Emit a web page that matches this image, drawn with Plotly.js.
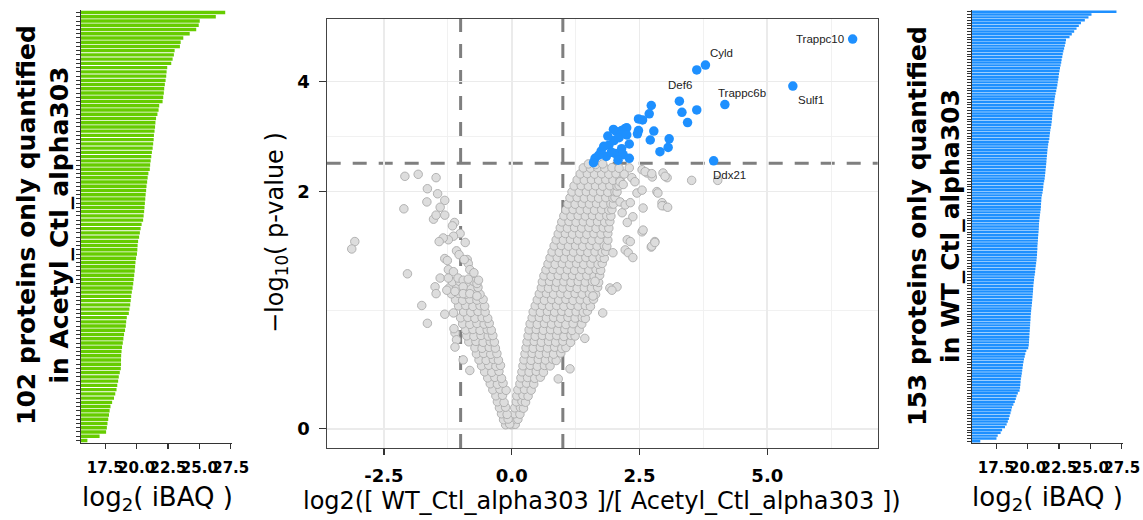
<!DOCTYPE html>
<html>
<head>
<meta charset="utf-8">
<script src="https://cdn.plot.ly/plotly-3.0.1.min.js"></script>
<style>html,body{margin:0;padding:0;background:#fff;}#chart{width:1143px;height:520px;}</style>
</head>
<body>
<div id="chart"></div>
<script>
// ---------------- DATA ----------------
// log2(iBAQ) of proteins only quantified in Acetyl_Ctl_alpha303 (sorted, top to bottom)
const acetylOnlyIBAQ = [
27.06,26.31,25.03,24.95,24.75,24.23,23.72,23.51,23.45,23.03,
22.97,22.87,22.76,22.44,22.39,22.36,22.31,22.25,22.20,22.17,
22.12,22.07,21.80,21.75,21.66,21.55,21.50,21.47,21.43,21.38,
21.36,21.32,21.28,21.22,21.17,21.12,21.08,21.05,20.94,20.88,
20.84,20.79,20.76,20.72,20.69,20.66,20.63,20.60,20.56,20.52,
20.40,20.32,20.26,20.20,20.12,20.08,20.06,20.03,19.96,19.91,
19.88,19.85,19.81,19.77,19.73,19.68,19.62,19.57,19.53,19.49,
19.43,19.38,19.22,19.17,19.14,19.08,19.00,18.95,18.90,18.84,
18.80,18.77,18.76,18.76,18.74,18.66,18.58,18.53,18.46,18.40,
18.30,18.20,18.05,17.92,17.85,17.80,17.74,17.68,17.63,17.57,
17.05,16.08];

// log2(iBAQ) of proteins only quantified in WT_Ctl_alpha303 (sorted, top to bottom)
const wtOnlyIBAQ = [
27.08,25.09,24.85,24.56,24.25,24.08,23.90,23.71,23.52,23.34,
23.06,23.02,22.97,22.91,22.85,22.80,22.76,22.71,22.68,22.63,
22.58,22.54,22.50,22.47,22.44,22.40,22.37,22.32,22.28,22.23,
22.19,22.15,22.13,22.10,22.06,22.01,21.98,21.96,21.94,21.92,
21.89,21.85,21.81,21.78,21.75,21.73,21.68,21.64,21.61,21.58,
21.56,21.54,21.52,21.50,21.48,21.46,21.43,21.41,21.39,21.36,
21.32,21.27,21.25,21.22,21.19,21.14,21.10,21.09,21.07,21.06,
21.04,21.01,20.98,20.95,20.93,20.91,20.90,20.89,20.87,20.85,
20.83,20.82,20.80,20.78,20.78,20.76,20.75,20.73,20.71,20.68,
20.65,20.62,20.60,20.57,20.53,20.51,20.48,20.46,20.44,20.43,
20.41,20.39,20.37,20.35,20.33,20.30,20.28,20.26,20.24,20.23,
20.21,20.20,20.18,20.17,20.15,20.14,20.12,20.11,20.09,20.05,
19.90,19.82,19.77,19.71,19.67,19.63,19.60,19.57,19.54,19.50,
19.46,19.44,19.42,19.40,19.36,19.22,19.12,19.06,18.98,18.87,
18.76,18.70,18.64,18.57,18.51,18.42,18.33,18.20,17.97,17.85,
17.62,17.52,16.23];

// Volcano plot: non-significant proteins [log2 ratio, -log10 p]
const grayPoints = [
// right arm
[0.00,0.019],[0.07,0.021],
[0.02,0.043],[0.12,0.045],
[0.05,0.072],[0.16,0.070],
[0.06,0.102],[0.17,0.104],[0.23,0.100],
[0.09,0.133],[0.20,0.135],[0.27,0.131],
[0.10,0.165],[0.22,0.168],[0.32,0.163],
[0.12,0.198],[0.25,0.200],[0.38,0.196],
[0.16,0.232],[0.29,0.235],[0.43,0.230],
[0.18,0.266],[0.31,0.268],[0.45,0.263],[0.56,0.270],
[0.20,0.302],[0.34,0.300],[0.48,0.305],[0.62,0.299],
[0.22,0.339],[0.36,0.342],[0.50,0.336],[0.64,0.341],[0.75,0.338],
[0.24,0.376],[0.38,0.373],[0.52,0.379],[0.66,0.375],[0.80,0.380],[0.87,0.372],
[0.26,0.415],[0.40,0.418],[0.54,0.412],[0.68,0.417],[0.82,0.413],[0.96,0.420],
[0.28,0.455],[0.42,0.452],[0.56,0.458],[0.70,0.454],[0.84,0.459],[0.98,0.451],[1.06,0.457],
[0.30,0.496],[0.44,0.499],[0.58,0.493],[0.72,0.498],[0.86,0.494],[1.00,0.500],[1.15,0.492],
[0.32,0.538],[0.46,0.535],[0.60,0.541],[0.74,0.536],[0.88,0.540],[1.02,0.534],[1.16,0.541],[1.24,0.537],
[0.34,0.581],[0.48,0.584],[0.62,0.578],[0.76,0.583],[0.90,0.579],[1.04,0.585],[1.18,0.577],[1.32,0.582],
[0.36,0.626],[0.50,0.622],[0.64,0.629],[0.78,0.624],[0.92,0.630],[1.06,0.621],[1.20,0.627],[1.37,0.624],
[0.40,0.672],[0.54,0.675],[0.68,0.669],[0.82,0.674],[0.96,0.668],[1.10,0.676],[1.24,0.670],[1.38,0.674],[1.44,0.667],
[0.42,0.719],[0.56,0.715],[0.70,0.722],[0.84,0.717],[0.98,0.723],[1.12,0.714],[1.26,0.720],[1.40,0.716],[1.48,0.724],
[0.46,0.767],[0.60,0.770],[0.74,0.763],[0.88,0.769],[1.02,0.764],[1.16,0.771],[1.30,0.765],[1.44,0.770],[1.54,0.762],
[0.50,0.817],[0.64,0.813],[0.78,0.820],[0.92,0.815],[1.06,0.821],[1.20,0.812],[1.34,0.818],[1.48,0.814],[1.60,0.822],
[0.54,0.868],[0.68,0.872],[0.82,0.865],[0.96,0.870],[1.10,0.864],[1.24,0.871],[1.38,0.866],[1.52,0.872],[1.64,0.863],
[0.58,0.921],[0.72,0.917],[0.86,0.924],[1.00,0.919],[1.14,0.925],[1.28,0.916],[1.42,0.922],[1.56,0.918],[1.68,0.926],
[0.60,0.975],[0.74,0.979],[0.88,0.972],[1.02,0.977],[1.16,0.971],[1.30,0.978],[1.44,0.973],[1.58,0.979],[1.70,0.970],
[0.63,1.031],[0.77,1.027],[0.91,1.034],[1.05,1.029],[1.19,1.035],[1.33,1.026],[1.47,1.032],[1.61,1.028],[1.72,1.036],
[0.67,1.088],[0.81,1.092],[0.95,1.085],[1.09,1.090],[1.23,1.084],[1.37,1.091],[1.51,1.086],[1.65,1.092],[1.74,1.083],
[0.71,1.146],[0.85,1.142],[0.99,1.149],[1.13,1.144],[1.27,1.150],[1.41,1.141],[1.55,1.147],[1.69,1.143],[1.77,1.151],
[0.75,1.207],[0.89,1.211],[1.03,1.204],[1.17,1.209],[1.31,1.203],[1.45,1.210],[1.59,1.205],[1.73,1.211],[1.81,1.202],
[0.79,1.269],[0.93,1.265],[1.07,1.272],[1.21,1.267],[1.35,1.273],[1.49,1.264],[1.63,1.270],[1.77,1.266],[1.84,1.274],
[0.83,1.333],[0.97,1.337],[1.11,1.330],[1.25,1.335],[1.39,1.329],[1.53,1.336],[1.67,1.331],[1.81,1.337],[1.86,1.328],
[0.87,1.399],[1.01,1.395],[1.15,1.402],[1.29,1.397],[1.43,1.403],[1.57,1.394],[1.71,1.400],[1.88,1.396],
[0.91,1.466],[1.05,1.470],[1.19,1.463],[1.33,1.468],[1.47,1.462],[1.61,1.469],[1.75,1.464],[1.88,1.470],
[0.95,1.536],[1.09,1.532],[1.23,1.539],[1.37,1.534],[1.51,1.540],[1.65,1.531],[1.79,1.537],[1.90,1.533],
[0.98,1.607],[1.12,1.611],[1.26,1.604],[1.40,1.609],[1.54,1.603],[1.68,1.610],[1.82,1.605],[1.92,1.611],
[1.02,1.681],[1.16,1.677],[1.30,1.684],[1.44,1.679],[1.58,1.685],[1.72,1.676],[1.86,1.682],[1.94,1.678],
[1.06,1.756],[1.20,1.760],[1.34,1.753],[1.48,1.758],[1.62,1.752],[1.76,1.759],[1.90,1.754],[1.96,1.760],
[1.10,1.834],[1.24,1.830],[1.38,1.837],[1.52,1.832],[1.66,1.838],[1.80,1.829],[1.94,1.835],[1.99,1.831],
[1.14,1.914],[1.28,1.918],[1.42,1.911],[1.56,1.916],[1.70,1.910],[1.84,1.917],[1.98,1.912],[2.02,1.918],
[1.18,1.996],[1.32,1.992],[1.46,1.999],[1.60,1.994],[1.74,2.000],[1.88,1.991],[2.02,1.997],[2.06,1.993],
[1.22,2.080],[1.36,2.084],[1.50,2.077],[1.64,2.082],[1.78,2.076],[1.92,2.083],[2.06,2.078],[2.10,2.084],
[1.28,2.167],[1.42,2.163],[1.56,2.170],[1.70,2.165],[1.84,2.171],[1.98,2.162],[2.12,2.168],
[1.34,2.256],[1.48,2.260],[1.62,2.253],[1.76,2.258],[1.90,2.252],[2.04,2.259],[2.20,2.254],
[1.40,2.348],[1.54,2.344],[1.68,2.351],[1.82,2.346],[1.96,2.352],[2.10,2.343],[2.30,2.349],
[1.50,2.41],[1.64,2.40],[1.78,2.41],
// right-side scattered
[3.52,2.16],[4.03,2.16],[2.96,2.27],[3.04,2.20],[2.84,2.00],[2.94,1.85],[2.98,1.81],[2.57,1.78],
[2.55,1.49],[2.80,1.38],[2.73,1.32],[2.26,1.40],[2.32,1.38],[2.22,1.29],[2.28,1.26],[2.37,1.21],
[1.98,1.26],[1.92,0.92],[2.06,0.93],[1.63,0.98],[1.78,0.71],[2.55,2.32],[2.65,2.27],[2.75,2.21],
[2.35,2.20],[2.41,2.14],[2.12,2.14],[2.18,2.10],[2.45,1.98],[2.37,1.67],[2.16,1.72],[2.26,1.60],
[2.12,1.86],[2.22,1.82],[2.32,1.85],[2.55,2.02],[2.86,1.98],[2.61,2.29],[2.74,2.26],[3.00,2.22],
[2.94,1.81],[3.05,1.79],[2.57,1.51],[2.74,1.33],[2.80,1.37],[1.43,0.52],[1.14,0.32],[0.91,0.26],
[1.59,0.85],[1.96,0.90],
// left arm
[-0.12,0.019],[-0.04,0.022],
[-0.16,0.043],[-0.07,0.046],
[-0.20,0.072],[-0.09,0.069],
[-0.24,0.102],[-0.12,0.105],
[-0.28,0.133],[-0.15,0.130],
[-0.31,0.165],[-0.18,0.168],
[-0.37,0.198],[-0.23,0.201],[-0.11,0.195],
[-0.42,0.232],[-0.28,0.229],[-0.17,0.235],
[-0.47,0.266],[-0.33,0.269],[-0.20,0.263],
[-0.53,0.302],[-0.39,0.299],[-0.25,0.305],
[-0.59,0.339],[-0.45,0.342],[-0.31,0.336],[-0.22,0.341],
[-0.64,0.376],[-0.50,0.373],[-0.36,0.379],[-0.26,0.374],
[-0.69,0.415],[-0.55,0.418],[-0.41,0.412],[-0.29,0.417],
[-0.72,0.455],[-0.58,0.452],[-0.44,0.458],[-0.32,0.453],
[-0.84,0.496],[-0.70,0.499],[-0.56,0.493],[-0.42,0.498],[-0.34,0.494],
[-0.88,0.538],[-0.74,0.535],[-0.60,0.541],[-0.46,0.536],[-0.37,0.540],
[-0.90,0.581],[-0.76,0.584],[-0.62,0.578],[-0.48,0.583],[-0.40,0.579],
[-0.96,0.626],[-0.82,0.622],[-0.68,0.629],[-0.54,0.624],[-0.44,0.630],
[-1.00,0.672],[-0.86,0.675],[-0.72,0.669],[-0.58,0.674],[-0.47,0.668],
[-0.94,0.719],[-0.80,0.715],[-0.66,0.722],[-0.52,0.717],
[-1.04,0.767],[-0.90,0.770],[-0.76,0.763],[-0.62,0.769],[-0.53,0.764],
[-1.10,0.817],[-0.96,0.813],[-0.82,0.820],[-0.68,0.815],[-0.56,0.821],
[-1.18,0.868],[-1.04,0.872],[-0.90,0.865],[-0.76,0.870],[-0.62,0.864],
[-1.22,0.921],[-1.08,0.917],[-0.94,0.924],[-0.80,0.919],[-0.66,0.925],
[-1.16,0.975],[-1.02,0.979],[-0.88,0.972],[-0.74,0.977],
// left-side scattered
[-2.09,2.22],[-1.83,2.25],[-1.48,2.20],[-1.65,2.04],[-1.45,1.97],[-1.66,1.86],[-1.31,1.88],[-2.11,1.77],
[-1.40,1.79],[-1.53,1.64],[-1.48,1.69],[-1.31,1.69],[-1.12,1.60],[-1.16,1.56],[-1.01,1.47],[-1.14,1.44],
[-0.91,1.37],[-1.24,1.40],[-1.34,1.42],[-1.42,1.38],[-3.07,1.38],[-3.13,1.30],[-1.08,1.28],[-1.03,1.24],
[-1.31,1.20],[-1.26,1.18],[-0.87,1.19],[-0.85,1.15],[-0.93,1.19],[-1.24,1.09],[-1.14,1.07],[-0.82,1.09],
[-0.74,1.06],[-2.04,1.05],[-1.40,1.01],[-1.24,1.01],[-1.05,1.01],[-0.95,0.99],[-0.85,1.00],[-0.68,0.96],
[-0.65,0.99],[-1.50,0.93],[-1.48,0.87],[-1.27,0.90],[-1.11,0.89],[-0.95,0.93],[-0.95,0.87],[-0.82,0.87],
[-0.68,0.85],[-1.76,0.77],[-1.65,0.63],[-1.31,0.70],[-1.14,0.71],[-1.11,0.56],[-1.08,0.51],[-1.11,0.46],
[-0.95,0.376],[-0.82,0.31],[-1.13,0.59]
];

// Volcano plot: significant proteins [log2 ratio, -log10 p]; first six are labelled
const sigPoints = [
[6.67,5.08],[3.79,4.39],[5.50,3.89],[4.17,3.49],[3.28,3.56],[3.95,2.46],
[3.62,4.27],[3.33,3.33],[3.62,3.38],[3.44,3.13],[3.08,2.83],[3.06,2.68],
[2.90,2.61],[2.78,2.97],[2.71,2.81],[2.73,3.47],[2.69,3.30],[2.48,3.20],
[2.56,3.18],[2.48,2.98],[2.46,2.92],[2.30,2.74],[2.22,3.02],[2.15,2.98],
[2.05,2.96],[1.99,3.00],[2.25,3.03],[2.02,2.58],[2.18,2.56],[1.85,2.53],
[1.63,2.50],[1.60,2.43],[1.75,2.62],[1.90,2.72],[2.00,2.80],[1.80,2.70],
[2.10,2.85],[1.95,2.60],[2.15,2.66],[1.70,2.55],[2.08,2.47],[1.88,2.88],
[2.30,2.50],[2.25,2.90]];
const sigLabels = ['Trappc10','Cyld','Sulf1','Trappc6b','Def6','Ddx21'];

const foldChangeCutoffs = [-1, 1];
const pValueCutoff = 2.42;

const volcanoXTicks = [-2.5, 0, 2.5, 5];
const volcanoXTickText = ['-2.5', '0.0', '2.5', '5.0'];
const volcanoXMinor = [-3.75, -1.25, 1.25, 3.75, 6.25];
const volcanoYTicks = [0, 2, 4];
const ibaqTicks = [17.5, 20, 22.5, 25, 27.5];
const ibaqTickText = ['17.5', '20.0', '22.5', '25.0', '27.5'];

// ---------------- STYLE / LAYOUT ----------------
const W = 1143, H = 520;
const px = v => v / W;            // paper x from pixel
const py = v => 1 - v / H;        // paper y from pixel
const tr = v => Math.log1p(v);    // pseudo-log y transform used by the volcano axis

const labelOffsets = [[-33, 0], [16, 12], [18, -14], [17, 12], [1, 16], [16, -14]];

const DV = 'DejaVu Sans, Verdana, sans-serif';
const AR = 'Liberation Sans, Arial, sans-serif';

const barAxisX = (domain) => ({
  domain: domain, range: [15.57, 27.6], tickmode: 'array', tickvals: ibaqTicks, ticktext: ibaqTickText,
  tickangle: 0, ticks: 'outside', ticklen: 5, tickwidth: 1.2, tickcolor: '#333', showline: true, linecolor: '#333', linewidth: 1.3,
  showgrid: false, zeroline: false, ticklabelstandoff: 6,
  tickfont: {family: DV, size: 15, color: '#000', weight: 'bold'}
});
const barAxisY = (domain, n, anchor) => ({
  domain: domain, anchor: anchor, range: [n - 0.4, -0.6], tickmode: 'linear', tick0: 0, dtick: 1,
  ticks: 'outside', ticklen: 4, tickwidth: 1, tickcolor: '#333', showticklabels: false,
  showline: true, linecolor: '#333', linewidth: 1.3, showgrid: false, zeroline: false
});

const traces = [
  {type: 'bar', orientation: 'h', x: acetylOnlyIBAQ, xaxis: 'x', yaxis: 'y', width: 0.8,
   marker: {color: '#66CC00', line: {width: 0}}, hoverinfo: 'x'},
  {type: 'scatter', mode: 'markers', xaxis: 'x2', yaxis: 'y2',
   x: grayPoints.map(p => p[0]), y: grayPoints.map(p => tr(p[1])),
   marker: {size: 8.5, color: '#dddddd', line: {width: 0.9, color: '#ababab'}}, hoverinfo: 'skip'},
  {type: 'scatter', mode: 'markers', xaxis: 'x2', yaxis: 'y2',
   x: sigPoints.map(p => p[0]), y: sigPoints.map(p => tr(p[1])),
   marker: {size: 9.5, color: '#1E90FF', line: {width: 0}}, hoverinfo: 'skip'},
  {type: 'bar', orientation: 'h', x: wtOnlyIBAQ, xaxis: 'x3', yaxis: 'y3', width: 0.85,
   marker: {color: '#1E90FF', line: {width: 0}}, hoverinfo: 'x'}
];

const dashLine = {color: '#7f7f7f', width: 3, dash: '14px,12px'};
const shapes = foldChangeCutoffs.map(c => ({
  type: 'line', xref: 'x2', yref: 'paper', x0: c, x1: c, y0: py(448), y1: py(19), line: dashLine, layer: 'below'
}));
shapes.push({type: 'line', xref: 'paper', yref: 'y2', x0: px(326.7), x1: px(877.7), y0: tr(pValueCutoff), y1: tr(pValueCutoff),
  line: dashLine, layer: 'below'});

const annotations = sigLabels.map((name, i) => ({
  xref: 'x2', yref: 'y2', x: sigPoints[i][0], y: tr(sigPoints[i][1]), text: name, showarrow: false,
  xshift: labelOffsets[i][0], yshift: labelOffsets[i][1], font: {family: AR, size: 11.5, color: '#222'}
}));
annotations.push(
  {xref: 'paper', yref: 'paper', x: px(43), y: py(225), textangle: -90, showarrow: false,
   text: '102 proteins only quantified<br>in Acetyl_Ctl_alpha303', xanchor: 'center', yanchor: 'middle',
   font: {family: DV, size: 25, color: '#000', weight: 'bold'}},
  {xref: 'paper', yref: 'paper', x: px(934), y: py(226), textangle: -90, showarrow: false,
   text: '153 proteins only quantified<br>in WT_Ctl_alpha303', xanchor: 'center', yanchor: 'middle',
   font: {family: DV, size: 25, color: '#000', weight: 'bold'}},
  {xref: 'paper', yref: 'paper', x: px(157), y: py(498), showarrow: false, text: 'log<sub>2</sub>( iBAQ )',
   xanchor: 'center', yanchor: 'middle', font: {family: DV, size: 26, color: '#000'}},
  {xref: 'paper', yref: 'paper', x: px(1047), y: py(498), showarrow: false, text: 'log<sub>2</sub>( iBAQ )',
   xanchor: 'center', yanchor: 'middle', font: {family: DV, size: 26, color: '#000'}},
  {xref: 'paper', yref: 'paper', x: px(277), y: py(233), textangle: -90, showarrow: false,
   text: '\u2212log<sub>10</sub>( p-value )', xanchor: 'center', yanchor: 'middle',
   font: {family: DV, size: 24, color: '#000'}},
  {xref: 'paper', yref: 'paper', x: px(602), y: py(501), showarrow: false,
   text: 'log2([ WT_Ctl_alpha303 ]/[ Acetyl_Ctl_alpha303 ])', xanchor: 'center', yanchor: 'middle',
   font: {family: DV, size: 24, color: '#000'}}
);

const layout = {
  width: W, height: H, margin: {l: 0, r: 0, t: 0, b: 0}, showlegend: false,
  paper_bgcolor: '#fff', plot_bgcolor: '#fff', font: {family: DV, color: '#000'},
  xaxis: Object.assign(barAxisX([px(81), px(232)]), {anchor: 'y'}),
  yaxis: barAxisY([py(443), py(10)], acetylOnlyIBAQ.length, 'x'),
  xaxis2: {
    domain: [px(326.7), px(877.7)], anchor: 'y2', range: [-3.62, 7.16],
    tickmode: 'array', tickvals: volcanoXTicks, ticktext: volcanoXTickText, tickangle: 0,
    ticks: 'outside', ticklen: 6, tickwidth: 1.2, tickcolor: '#333',
    showline: true, mirror: true, linecolor: '#444', linewidth: 1.2,
    showgrid: true, gridcolor: '#ebebeb', gridwidth: 1.6, zeroline: false, ticklabelstandoff: 5,
    minor: {tickmode: 'array', tickvals: volcanoXMinor, showgrid: true, gridcolor: '#f0f0f0', gridwidth: 0.9, ticks: ''},
    tickfont: {family: DV, size: 18, color: '#000', weight: 'bold'}
  },
  yaxis2: {
    domain: [py(448), py(19)], anchor: 'x2', range: [-0.089, 1.898],
    tickmode: 'array', tickvals: volcanoYTicks.map(tr), ticktext: volcanoYTicks.map(String),
    ticks: 'outside', ticklen: 7, tickwidth: 1.2, tickcolor: '#333',
    showline: true, mirror: true, linecolor: '#444', linewidth: 1.2,
    showgrid: true, gridcolor: '#ebebeb', gridwidth: 1.6, zeroline: false, ticklabelstandoff: 5,
    minor: {tickmode: 'array', tickvals: [(tr(0) + tr(2)) / 2, (tr(2) + tr(4)) / 2], showgrid: true,
            gridcolor: '#f0f0f0', gridwidth: 0.9, ticks: ''},
    tickfont: {family: DV, size: 18, color: '#000', weight: 'bold'}
  },
  xaxis3: Object.assign(barAxisX([px(972), px(1123)]), {anchor: 'y3'}),
  yaxis3: barAxisY([py(443), py(10)], wtOnlyIBAQ.length, 'x3'),
  shapes: shapes,
  annotations: annotations
};

Plotly.newPlot('chart', traces, layout, {displayModeBar: false, staticPlot: true});
</script>
</body>
</html>
